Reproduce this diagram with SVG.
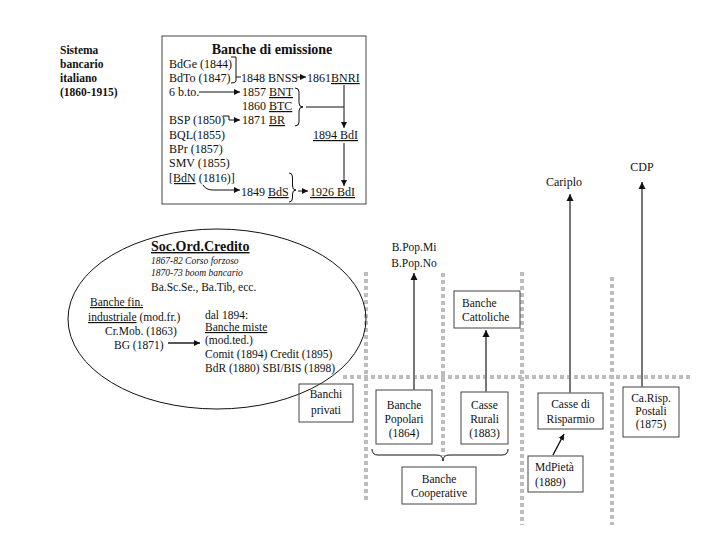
<svg xmlns="http://www.w3.org/2000/svg" width="720" height="540" viewBox="0 0 720 540">
<style>
text{font-family:"Liberation Serif","Times New Roman",serif;fill:#111;}
.t{font-size:12px;}
.e{font-size:11.5px;}
.b{font-size:11.5px;}
.bold{font-weight:bold;}
.u{text-decoration:underline;}
.it{font-style:italic;font-size:9.5px;}
.box{fill:none;stroke:#444;stroke-width:1;}
.dot{fill:none;stroke:#bdbdbd;stroke-width:4;stroke-dasharray:4 3;}
.gl{fill:none;stroke:#777;stroke-width:2;}
.bl{fill:none;stroke:#111;stroke-width:1;}
.bl2{fill:none;stroke:#111;stroke-width:1.4;}
.c{text-anchor:middle;}
</style>
<defs>
<marker id="ah" markerUnits="userSpaceOnUse" markerWidth="8" markerHeight="8" refX="7" refY="4" orient="auto">
<path d="M0,0.5 L7,4 L0,7.5 z" fill="#111"/>
</marker>
<marker id="ahs" markerUnits="userSpaceOnUse" markerWidth="7" markerHeight="7" refX="6" refY="3.5" orient="auto">
<path d="M0,0.5 L6,3.5 L0,6.5 z" fill="#111"/>
</marker>
</defs>
<rect width="720" height="540" fill="#fff"/>

<g id="title">
<text class="b bold" x="60" y="54">Sistema</text>
<text class="b bold" x="60" y="68">bancario</text>
<text class="b bold" x="60" y="82">italiano</text>
<text class="b bold" x="60" y="96">(1860-1915)</text>
</g>

<g id="dotted-grid">
<line class="dot" x1="366" y1="272" x2="366" y2="500"/>
<line class="dot" x1="443" y1="273" x2="443" y2="456"/>
<line class="dot" x1="522" y1="272" x2="522" y2="525"/>
<line class="dot" x1="612" y1="277" x2="612" y2="525"/>
<line class="dot" x1="343" y1="377" x2="690" y2="377"/>
</g>

<g id="emissione">
<rect class="box" x="162" y="36" width="204" height="168"/>
<text class="t bold c" x="272" y="54" style="font-size:14px">Banche di emissione</text>
<text class="t" x="169" y="68">BdGe (1844)</text>
<text class="t" x="169" y="82">BdTo (1847)</text>
<text class="t" x="169" y="96">6 b.to.</text>
<text class="t" x="169" y="124">BSP (1850)</text>
<text class="t" x="169" y="139">BQL(1855)</text>
<text class="t" x="169" y="153">BPr  (1857)</text>
<text class="t" x="169" y="167">SMV (1855)</text>
<text class="t" x="169" y="182"><tspan class="u">[BdN</tspan> (1816)]</text>
<text class="t" x="241" y="82">1848 BNSS</text>
<text class="t" x="307" y="82">1861<tspan class="u">BNRI</tspan></text>
<text class="t" x="242" y="96">1857 <tspan class="u">BNT</tspan></text>
<text class="t" x="242" y="110">1860 <tspan class="u">BTC</tspan></text>
<text class="t" x="242" y="124">1871 <tspan class="u">BR</tspan></text>
<text class="t u" x="313" y="139">1894 BdI</text>
<text class="t" x="241" y="196">1849 <tspan class="u">BdS</tspan></text>
<text class="t u" x="310" y="196">1926 BdI</text>
</g>

<g id="socord">
<ellipse class="bl" cx="217" cy="319" rx="149" ry="90"/>
<text class="bold u" x="151" y="251" style="font-size:14px">Soc.Ord.Credito</text>
<text class="it" x="151" y="264">1867-82 Corso forzoso</text>
<text class="it" x="151" y="276">1870-73 boom bancario</text>
<text class="e" x="151" y="291">Ba.Sc.Se., Ba.Tib, ecc.</text>
<text class="e" x="90" y="306"><tspan class="u">Banche fin.</tspan></text>
<text class="e" x="88" y="321"><tspan class="u">industriale</tspan> (mod.fr.)</text>
<text class="e" x="105" y="335">Cr.Mob. (1863)</text>
<text class="e" x="114" y="349">BG (1871)</text>
<text class="e" x="205" y="319">dal 1894:</text>
<text class="e u" x="205" y="331">Banche miste</text>
<text class="e" x="205" y="344">(mod.ted.)</text>
<text class="e" x="205" y="358">Comit (1894) Credit (1895)</text>
<text class="e" x="205" y="372">BdR (1880) SBI/BIS (1898)</text>
</g>

<g id="banchi-privati">
<rect class="box" x="299" y="384" width="54" height="38"/>
<text class="e c" x="326" y="398">Banchi</text>
<text class="e c" x="326" y="414">privati</text>
</g>

<g id="banche-popolari">
<rect class="box" x="376" y="390" width="56" height="54"/>
<text class="e c" x="404" y="409">Banche</text>
<text class="e c" x="404" y="423">Popolari</text>
<text class="e c" x="404" y="437">(1864)</text>
</g>

<g id="casse-rurali">
<rect class="box" x="461" y="392" width="47" height="52"/>
<text class="e c" x="484.5" y="409">Casse</text>
<text class="e c" x="484.5" y="423">Rurali</text>
<text class="e c" x="484.5" y="437">(1883)</text>
</g>

<g id="banche-cooperative">
<rect class="box" x="402" y="467" width="74" height="37"/>
<text class="e c" x="439" y="483">Banche</text>
<text class="e c" x="439" y="497">Cooperative</text>
</g>

<g id="banche-cattoliche">
<rect class="box" x="454" y="291" width="66" height="37"/>
<text class="e" x="462" y="307">Banche</text>
<text class="e" x="462" y="321">Cattoliche</text>
</g>

<g id="bpop">
<text class="e c" x="414" y="251">B.Pop.Mi</text>
<text class="e c" x="414" y="267">B.Pop.No</text>
</g>

<g id="casse-risparmio">
<rect class="box" x="538" y="393" width="65" height="36"/>
<text class="e c" x="570.5" y="408">Casse di</text>
<text class="e c" x="570.5" y="423">Risparmio</text>
</g>

<g id="cariplo"><text class="t c" x="564" y="186">Cariplo</text></g>
<g id="cdp"><text class="t c" x="642" y="171">CDP</text></g>

<g id="ca-risp-postali">
<rect class="box" x="623" y="387" width="56" height="50"/>
<text class="e c" x="651" y="402">Ca.Risp.</text>
<text class="e c" x="651" y="415">Postali</text>
<text class="e c" x="651" y="428">(1875)</text>
</g>

<g id="mdpieta">
<rect class="box" x="528" y="456" width="55" height="36"/>
<text class="e" x="535" y="471">MdPietà</text>
<text class="e" x="535" y="486">(1889)</text>
</g>

<g id="connectors">
<path class="bl" d="M231,57 H236 V81 Q236,83 231,83 M236,77 H241"/>
<path class="bl" d="M199,92 H240" marker-end="url(#ahs)"/>
<path class="bl" d="M223,116 H229 V120 H240" marker-end="url(#ahs)"/>
<path class="bl" d="M296,77 H306" marker-end="url(#ahs)"/>
<path class="bl" d="M295,88 Q299,88 299,92 V103 Q299,107 303,107 Q299,107 299,111 V122 Q299,126 295,126"/>
<path class="bl" d="M306,107 H344"/>
<path class="bl" d="M344,85 V128" marker-end="url(#ahs)"/>
<path class="bl" d="M344,143 V186" marker-end="url(#ahs)"/>
<path class="bl" d="M203,185 Q206,190 213,190 H240" marker-end="url(#ahs)"/>
<path class="bl" d="M289,173 Q292.5,173 292.5,177 V186 Q292.5,190 296,190 Q292.5,190 292.5,194 V198 Q292.5,202 289,202"/>
<path class="bl" d="M298,191 H308" marker-end="url(#ahs)"/>
<path class="bl2" d="M168,343 H200" marker-end="url(#ahs)"/>
<path class="bl" d="M372,449 Q372,455 378,455 H437 Q443,455 443,461 Q443,455 449,455 H502 Q508,455 508,449"/>
<path class="gl" d="M414,390 V273" marker-end="url(#ah)"/>
<path class="gl" d="M486,392 V330" marker-end="url(#ah)"/>
<path class="gl" d="M570,393 V194" marker-end="url(#ah)"/>
<path class="gl" d="M642,387 V182" marker-end="url(#ah)"/>
<path class="bl2" d="M553,455 L564,434" marker-end="url(#ahs)"/>
</g>
</svg>
